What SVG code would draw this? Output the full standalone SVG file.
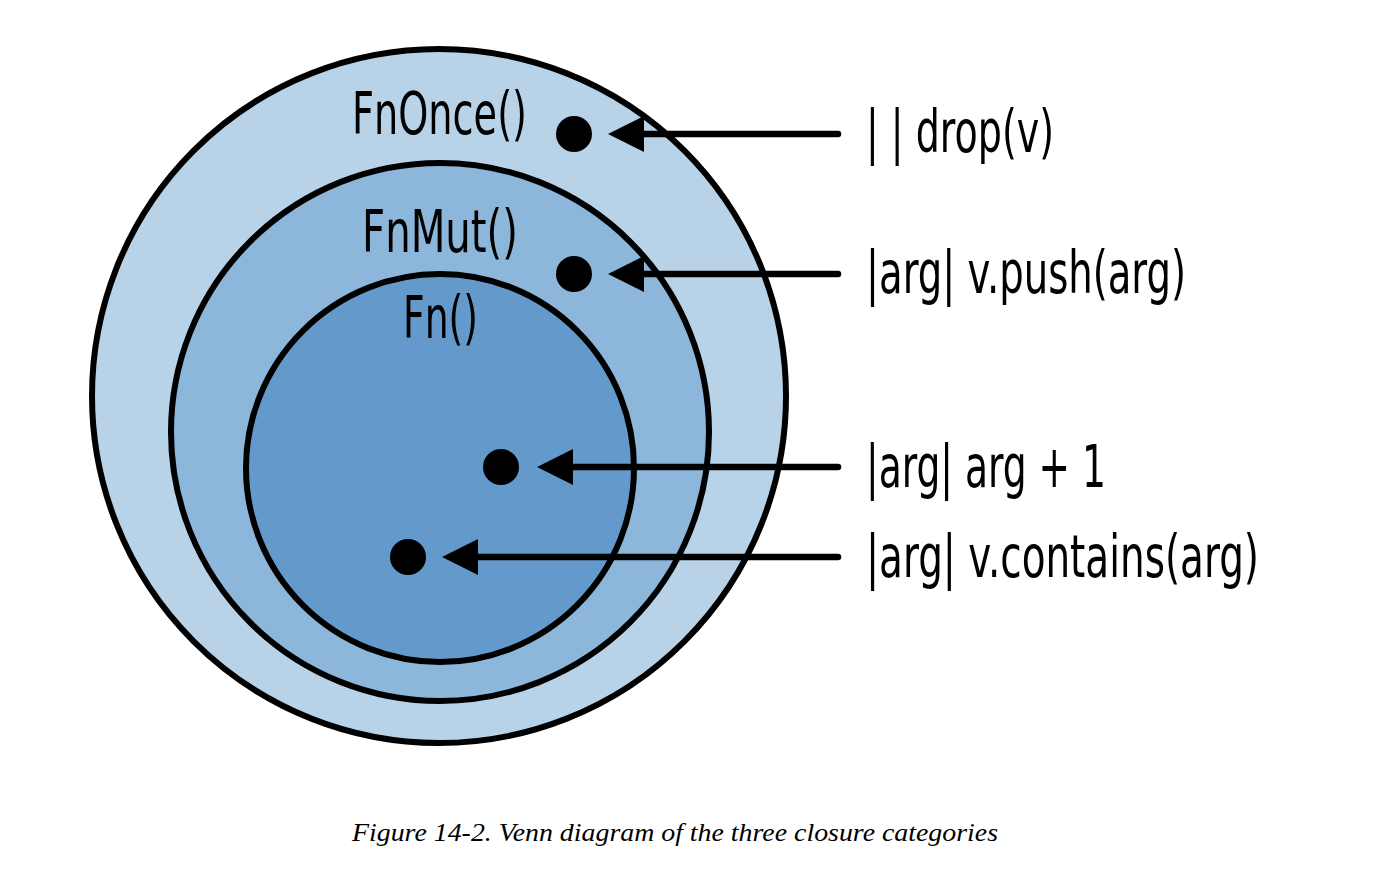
<svg xmlns="http://www.w3.org/2000/svg" width="1386" height="876" viewBox="0 0 1386 876">
<style>
.ring{stroke:#000;stroke-width:6}
.lbl{font-family:"Liberation Sans Narrow","DejaVu Sans Condensed","Liberation Sans",sans-serif;font-size:58px;fill:#000}
.code{font-family:"Liberation Sans Narrow","DejaVu Sans Condensed","Liberation Sans",sans-serif;font-size:58px;fill:#000}
.cap{font-family:"Liberation Serif",serif;font-style:italic;font-size:25px;fill:#000}
.dot{fill:#000}
.conn{stroke:#000;stroke-width:6.5;stroke-linecap:round;fill:none;marker-end:url(#head)}
</style>
<defs>
<marker id="head" viewBox="0 -18 36 36" markerWidth="36" markerHeight="36" refX="1" refY="0" markerUnits="userSpaceOnUse" orient="auto">
<path d="M0,-18 L36,0 L0,18 Z" fill="#000"/>
</marker>
</defs>
<rect width="1386" height="876" fill="#fff"/>
<g id="fnonce">
<circle class="ring" cx="439" cy="396" r="347" fill="#b8d3e8"/>
<text class="lbl" x="352" y="134" textLength="175" lengthAdjust="spacingAndGlyphs">FnOnce()</text>
</g>
<g id="fnmut">
<circle class="ring" cx="440" cy="432" r="269" fill="#8cb6da"/>
<text class="lbl" x="362" y="252" textLength="156" lengthAdjust="spacingAndGlyphs">FnMut()</text>
</g>
<g id="fn">
<circle class="ring" cx="440" cy="468" r="194" fill="#6499cb"/>
<text class="lbl" x="403" y="338" textLength="75" lengthAdjust="spacingAndGlyphs">Fn()</text>
</g>
<g id="dot-drop"><circle class="dot" cx="574" cy="134" r="18"/></g>
<g id="dot-push"><circle class="dot" cx="574" cy="274" r="18"/></g>
<g id="dot-add"><circle class="dot" cx="501" cy="467" r="18"/></g>
<g id="dot-contains"><circle class="dot" cx="408" cy="557" r="18"/></g>
<g id="connectors">
<line class="conn" x1="838" y1="134" x2="643" y2="134"/>
<line class="conn" x1="838" y1="274" x2="643" y2="274"/>
<line class="conn" x1="838" y1="467" x2="572" y2="467"/>
<line class="conn" x1="838" y1="557" x2="477" y2="557"/>
</g>
<g id="label-drop"><text class="code" x="866" y="152" textLength="188" lengthAdjust="spacingAndGlyphs">| | drop(v)</text></g>
<g id="label-push"><text class="code" x="866" y="293" textLength="320" lengthAdjust="spacingAndGlyphs">|arg| v.push(arg)</text></g>
<g id="label-add"><text class="code" x="866" y="487" textLength="240" lengthAdjust="spacingAndGlyphs">|arg| arg + 1</text></g>
<g id="label-contains"><text class="code" x="866" y="577" textLength="393" lengthAdjust="spacingAndGlyphs">|arg| v.contains(arg)</text></g>
<text class="cap" x="352" y="841" textLength="646" lengthAdjust="spacingAndGlyphs">Figure 14-2. Venn diagram of the three closure categories</text>
</svg>
